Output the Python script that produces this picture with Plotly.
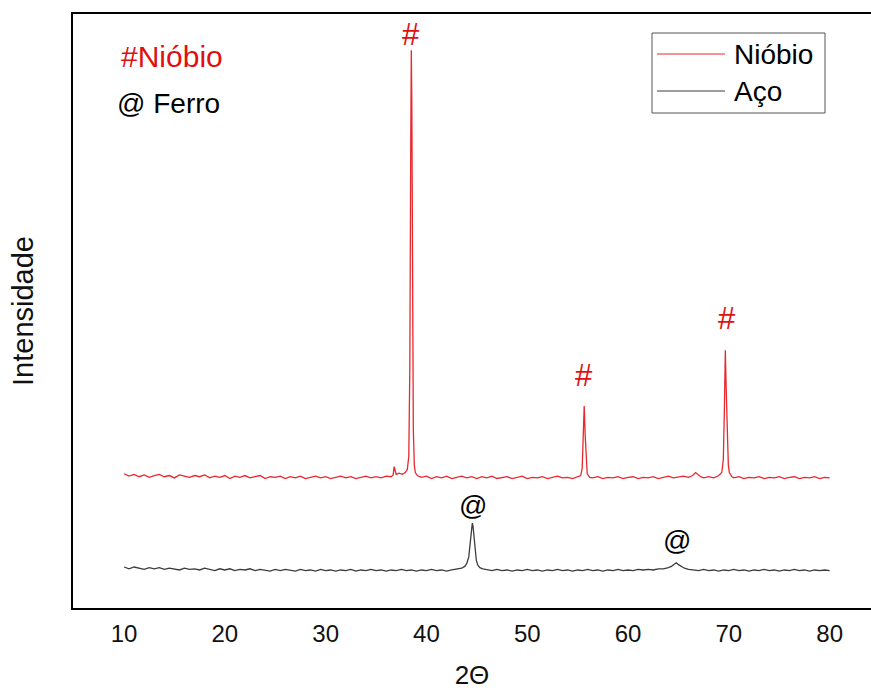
import plotly.graph_objects as go

# ---------------- data ----------------
nb_2theta = [10.0, 10.5, 11.0, 11.5, 12.0, 12.5, 13.0, 13.5, 14.0, 14.5, 15.0, 15.5, 16.0, 16.5, 17.0, 17.5,
             18.0, 18.5, 19.0, 19.5, 20.0, 20.5, 21.0, 21.5, 22.0, 22.5, 23.0, 23.5, 24.0, 24.5, 25.0, 25.5,
             26.0, 26.5, 27.0, 27.5, 28.0, 28.5, 29.0, 29.5, 30.0, 30.5, 31.0, 31.5, 32.0, 32.5, 33.0, 33.5,
             34.0, 34.5, 35.0, 35.5, 36.0, 36.5, 36.7, 36.8, 36.9, 37.0, 37.3, 37.6, 37.9, 38.1, 38.25, 38.35,
             38.45, 38.5, 38.55, 38.62, 38.7, 38.8, 38.9, 39.1, 39.5, 40.0, 40.5, 41.0, 41.5, 42.0, 42.5, 43.0,
             43.5, 44.0, 44.5, 45.0, 45.5, 46.0, 46.5, 47.0, 47.5, 48.0, 48.5, 49.0, 49.5, 50.0, 50.5, 51.0,
             51.5, 52.0, 52.5, 53.0, 53.5, 54.0, 54.5, 55.0, 55.3, 55.45, 55.55, 55.65, 55.75, 55.85, 55.95, 56.2,
             56.5, 57.0, 57.5, 58.0, 58.5, 59.0, 59.5, 60.0, 60.5, 61.0, 61.5, 62.0, 62.5, 63.0, 63.5, 64.0,
             64.5, 65.0, 65.5, 66.0, 66.4, 66.7, 66.9, 67.2, 67.5, 68.0, 68.5, 69.0, 69.3, 69.45, 69.55, 69.65,
             69.72, 69.8, 69.88, 69.95, 70.05, 70.3, 70.5, 71.0, 71.5, 72.0, 72.5, 73.0, 73.5, 74.0, 74.5, 75.0,
             75.5, 76.0, 76.5, 77.0, 77.5, 78.0, 78.5, 79.0, 79.5, 80.0]
nb_intensity = [22.6, 22.2, 22.5, 22.1, 22.4, 22.0, 22.3, 22.5, 22.1, 22.3, 21.9, 22.4, 22.2, 22.0, 22.3, 22.1,
                22.4, 21.9, 22.2, 22.0, 22.3, 21.8, 22.2, 22.0, 22.3, 21.9, 22.1, 22.3, 21.8, 22.1, 22.0, 22.2,
                21.8, 22.1, 21.9, 22.2, 21.8, 22.0, 22.2, 21.9, 22.1, 21.8, 22.0, 22.2, 21.9, 22.1, 21.8, 22.0,
                22.2, 21.9, 22.1, 21.9, 22.2, 22.1, 22.4, 23.8, 23.0, 22.5, 22.7, 22.5, 22.8, 23.3, 25.5, 40.0,
                80.0, 93.9, 85.0, 55.0, 30.0, 24.0, 22.8, 22.3, 22.0, 22.2, 21.8, 22.1, 21.9, 22.2, 21.8, 22.0,
                22.2, 21.9, 22.1, 21.8, 22.1, 21.9, 22.2, 21.8, 22.0, 22.1, 21.8, 22.0, 22.2, 21.8, 22.0, 21.9,
                22.1, 21.8, 22.0, 22.2, 21.9, 22.0, 21.8, 22.1, 22.3, 23.5, 28.0, 34.0, 29.0, 24.0, 22.6, 22.0,
                21.9, 22.1, 21.8, 22.0, 21.9, 22.1, 21.8, 22.0, 22.1, 21.8, 22.0, 21.9, 22.1, 21.8, 22.0, 22.2,
                21.9, 22.0, 22.2, 22.0, 22.3, 22.8, 22.5, 22.1, 21.9, 22.1, 21.9, 22.3, 22.8, 25.0, 33.0, 43.4,
                38.0, 34.5, 28.0, 24.0, 22.8, 22.1, 21.9, 22.1, 21.8, 22.0, 21.9, 22.1, 21.8, 22.0, 21.9, 22.1,
                21.8, 22.0, 22.1, 21.8, 22.0, 21.9, 22.1, 21.8, 22.0, 21.9]

aco_2theta = [10.0, 10.5, 11.0, 11.5, 12.0, 12.5, 13.0, 13.5, 14.0, 14.5, 15.0, 15.5, 16.0, 16.5, 17.0, 17.5,
              18.0, 18.5, 19.0, 19.5, 20.0, 20.5, 21.0, 21.5, 22.0, 22.5, 23.0, 23.5, 24.0, 24.5, 25.0, 25.5,
              26.0, 26.5, 27.0, 27.5, 28.0, 28.5, 29.0, 29.5, 30.0, 30.5, 31.0, 31.5, 32.0, 32.5, 33.0, 33.5,
              34.0, 34.5, 35.0, 35.5, 36.0, 36.5, 37.0, 37.5, 38.0, 38.5, 39.0, 39.5, 40.0, 40.5, 41.0, 41.5,
              42.0, 42.5, 43.0, 43.5, 43.8, 44.0, 44.2, 44.35, 44.45, 44.55, 44.62, 44.7, 44.8, 44.95, 45.1, 45.3,
              45.6, 46.0, 46.5, 47.0, 47.5, 48.0, 48.5, 49.0, 49.5, 50.0, 50.5, 51.0, 51.5, 52.0, 52.5, 53.0,
              53.5, 54.0, 54.5, 55.0, 55.5, 56.0, 56.5, 57.0, 57.5, 58.0, 58.5, 59.0, 59.5, 60.0, 60.5, 61.0,
              61.5, 62.0, 62.5, 63.0, 63.5, 64.0, 64.3, 64.6, 64.8, 65.0, 65.3, 65.6, 66.0, 66.5, 67.0, 67.5,
              68.0, 68.5, 69.0, 69.5, 70.0, 70.5, 71.0, 71.5, 72.0, 72.5, 73.0, 73.5, 74.0, 74.5, 75.0, 75.5,
              76.0, 76.5, 77.0, 77.5, 78.0, 78.5, 79.0, 79.5, 80.0]
aco_intensity = [6.9, 6.6, 6.9, 6.7, 6.5, 6.8, 6.6, 6.8, 6.5, 6.7, 6.6, 6.4, 6.7, 6.5, 6.6, 6.4,
                 6.7, 6.5, 6.3, 6.6, 6.4, 6.6, 6.3, 6.5, 6.4, 6.6, 6.3, 6.5, 6.4, 6.2, 6.5, 6.3,
                 6.5, 6.4, 6.2, 6.5, 6.3, 6.4, 6.2, 6.5, 6.3, 6.4, 6.2, 6.4, 6.3, 6.5, 6.2, 6.4,
                 6.3, 6.5, 6.3, 6.4, 6.2, 6.4, 6.3, 6.5, 6.3, 6.4, 6.2, 6.4, 6.3, 6.5, 6.3, 6.4,
                 6.2, 6.4, 6.5, 6.7, 7.0, 7.5, 8.6, 10.8, 13.0, 14.3, 13.8, 12.0, 9.8, 8.0, 7.2, 6.8,
                 6.6, 6.5, 6.3, 6.5, 6.3, 6.4, 6.2, 6.4, 6.3, 6.5, 6.3, 6.4, 6.2, 6.4, 6.3, 6.5,
                 6.3, 6.4, 6.2, 6.4, 6.3, 6.5, 6.3, 6.4, 6.2, 6.4, 6.3, 6.5, 6.3, 6.4, 6.3, 6.5,
                 6.4, 6.5, 6.4, 6.6, 6.6, 6.8, 7.0, 7.4, 7.6, 7.3, 7.0, 6.7, 6.5, 6.4, 6.3, 6.5,
                 6.3, 6.4, 6.2, 6.4, 6.3, 6.5, 6.3, 6.4, 6.2, 6.4, 6.3, 6.5, 6.3, 6.4, 6.2, 6.4,
                 6.3, 6.5, 6.3, 6.4, 6.2, 6.4, 6.3, 6.4, 6.3]

series_names = ["Nióbio", "Aço"]
x_ticks = [10, 20, 30, 40, 50, 60, 70, 80]

# peak markers
nb_peak_2theta = [38.5, 55.65, 69.85]
nb_peak_label_y = [96.6, 39.1, 48.8]
fe_peak_2theta = [44.6, 64.85]
fe_peak_label_y = [17.3, 11.4]

# ---------------- styling ----------------
RED = "#e8282e"
GRAY = "#3c3c3c"
FONT = "Arial, Liberation Sans, sans-serif"

W, H = 871, 690
ML, MR, MT, MB = 73, 0, 14, 82
PW, PH = W - ML - MR, H - MT - MB


def px_x(px):
    return (px - ML) / PW


def px_y(py):
    return (H - MB - py) / PH


fig = go.Figure()
fig.add_trace(go.Scatter(x=nb_2theta, y=nb_intensity, mode="lines", name=series_names[0],
                         line=dict(color=RED, width=1.3), showlegend=False))
fig.add_trace(go.Scatter(x=aco_2theta, y=aco_intensity, mode="lines", name=series_names[1],
                         line=dict(color=GRAY, width=1.3), showlegend=False))

annotations = []
for xv, yv in zip(nb_peak_2theta, nb_peak_label_y):
    annotations.append(dict(x=xv, y=yv, xref="x", yref="y", text="#", showarrow=False,
                            font=dict(family=FONT, size=31, color="#e01010")))
for xv, yv in zip(fe_peak_2theta, fe_peak_label_y):
    annotations.append(dict(x=xv, y=yv, xref="x", yref="y", text="@", showarrow=False,
                            font=dict(family=FONT, size=28, color="black")))

# top-left key
annotations.append(dict(x=px_x(119), y=px_y(57), xref="paper", yref="paper", xanchor="left",
                        yanchor="middle", text="#Nióbio", showarrow=False,
                        font=dict(family=FONT, size=30, color="#e01010")))
annotations.append(dict(x=px_x(115), y=px_y(103), xref="paper", yref="paper", xanchor="left",
                        yanchor="middle", text="@ Ferro", showarrow=False,
                        font=dict(family=FONT, size=28, color="black")))

# manual legend
shapes = [
    dict(type="rect", xref="paper", yref="paper", x0=px_x(652), x1=px_x(825), y0=px_y(113), y1=px_y(33),
         line=dict(color="#555555", width=1), fillcolor="white", layer="above"),
    dict(type="line", xref="paper", yref="paper", x0=px_x(657), x1=px_x(725), y0=px_y(54), y1=px_y(54),
         line=dict(color=RED, width=1)),
    dict(type="line", xref="paper", yref="paper", x0=px_x(657), x1=px_x(725), y0=px_y(91), y1=px_y(91),
         line=dict(color=GRAY, width=1)),
]
annotations.append(dict(x=px_x(732), y=px_y(55), xref="paper", yref="paper", xanchor="left",
                        yanchor="middle", text=series_names[0], showarrow=False,
                        font=dict(family=FONT, size=28, color="black")))
annotations.append(dict(x=px_x(732), y=px_y(92), xref="paper", yref="paper", xanchor="left",
                        yanchor="middle", text=series_names[1], showarrow=False,
                        font=dict(family=FONT, size=28, color="black")))

fig.update_layout(
    width=W, height=H,
    margin=dict(l=ML, r=MR, t=MT, b=MB, autoexpand=False),
    paper_bgcolor="white", plot_bgcolor="white",
    font=dict(family=FONT, color="black"),
    showlegend=False,
    annotations=annotations,
    shapes=shapes,
    xaxis=dict(range=[4.94, 84.1], tickvals=x_ticks, ticktext=[str(t) for t in x_ticks],
               showgrid=False, zeroline=False, showline=True, mirror=True, linecolor="black", linewidth=2,
               ticks="outside", ticklen=3, tickcolor="rgba(0,0,0,0)",
               tickfont=dict(family=FONT, size=24, color="#111111"),
               title=dict(text="2Θ", font=dict(family=FONT, size=26, color="#111111"), standoff=23)),
    yaxis=dict(range=[0, 100], showticklabels=False, showgrid=False, zeroline=False,
               showline=True, mirror=False, linecolor="black", linewidth=2, ticks="",
               title=dict(text="Intensidade", font=dict(family=FONT, size=29, color="#111111"), standoff=29)),
)

fig.write_html("out.html", config={"displayModeBar": False},
               post_script="document.body.style.margin='0';document.body.style.overflow='hidden';")
